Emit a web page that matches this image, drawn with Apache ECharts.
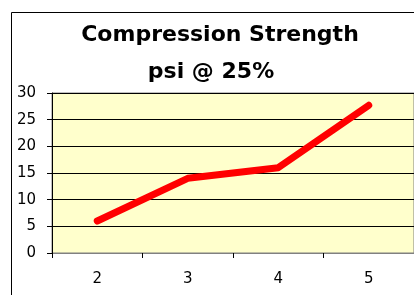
<!DOCTYPE html>
<html>
<head>
<meta charset="utf-8">
<script src="https://cdn.jsdelivr.net/npm/echarts@6/dist/echarts.min.js"></script>
<style>
html, body { margin: 0; padding: 0; background: #fff; }
#main { width: 414px; height: 295px; }
</style>
</head>
<body>
<div id="main"></div>
<script>
var titleLines = ['Compression Strength', 'psi @ 25%'];
var categories = ['2', '3', '4', '5'];
var strength = [6, 14, 16, 27.7];
var yMin = 0, yMax = 30, yStep = 5;

var myChart = echarts.init(document.getElementById('main'));

var titleStyle = {
	fontFamily: 'DejaVu Sans, sans-serif',
	fontWeight: 'bold',
	fontSize: 22,
	color: '#000'
};

var option = {
	animation: false,
	backgroundColor: '#fff',
	title: [{
		text: titleLines[0],
		left: 215,
		textAlign: 'center',
		top: 19,
		textStyle: titleStyle
	}, {
		text: titleLines[1],
		left: 206,
		textAlign: 'center',
		top: 56,
		textStyle: titleStyle
	}],
	graphic: [{
		// outer chart border
		type: 'rect',
		left: 9,
		top: 10,
		shape: { width: 420, height: 300 },
		style: { fill: 'none', stroke: '#000', lineWidth: 1 },
		z: 100
	}],
	grid: {
		left: 52,
		top: 93,
		right: -6,
		bottom: 42,
		show: true,
		backgroundColor: '#FFFFCC',
		borderColor: '#808080',
		borderWidth: 1
	},
	xAxis: {
		type: 'category',
		data: categories,
		boundaryGap: true,
		axisLine: { show: true, lineStyle: { color: '#808080', width: 1 } },
		axisTick: { show: true, length: 5, inside: false, lineStyle: { color: '#000' } },
		axisLabel: {
			margin: 19,
			fontFamily: 'DejaVu Sans, sans-serif',
			fontSize: 15,
			color: '#000'
		},
		splitLine: { show: false }
	},
	yAxis: {
		type: 'value',
		min: yMin,
		max: yMax,
		interval: yStep,
		axisLine: { show: true, lineStyle: { color: '#000', width: 1 } },
		axisTick: { show: true, length: 5, lineStyle: { color: '#000' } },
		axisLabel: {
			margin: 16,
			fontFamily: 'DejaVu Sans, sans-serif',
			fontSize: 15,
			color: '#000'
		},
		splitLine: { show: true, lineStyle: { color: '#000', width: 1 } }
	},
	series: [{
		name: 'psi @ 25%',
		type: 'line',
		data: strength,
		showSymbol: false,
		symbol: 'none',
		lineStyle: { color: '#FF0000', width: 7, cap: 'round', join: 'round' },
		z: 5
	}]
};
myChart.setOption(option);
</script>
</body>
</html>
